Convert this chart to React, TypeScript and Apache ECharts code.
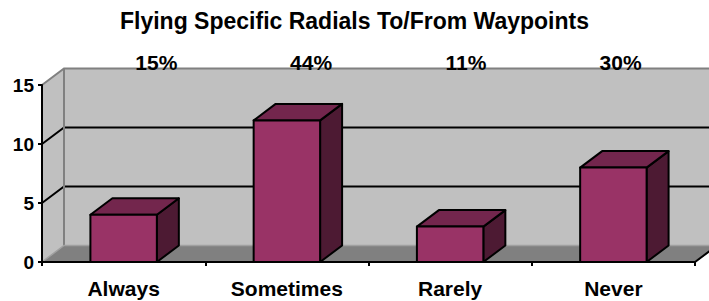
import React, { useEffect, useRef } from "react";
import * as echarts from "echarts";

const chartTitle = "Flying Specific Radials To/From Waypoints";
const categories = ["Always", "Sometimes", "Rarely", "Never"];
const counts = [4, 12, 3, 8];
const percentLabels = ["15%", "44%", "11%", "30%"];
const yMin = 0;
const yMax = 15;
const yInterval = 5;
const gridValues = [5, 10];

const DX = 22;
const DY = -16.5;
const FONT = "Arial, 'Liberation Sans', Helvetica, sans-serif";

export default function App() {
  const ref = useRef<HTMLDivElement>(null);
  useEffect(() => {
    const chart = echarts.init(ref.current as HTMLDivElement, null, { renderer: "svg" });
    const option: any = {
      animation: false,
      backgroundColor: "#ffffff",
      title: {
        text: chartTitle,
        left: "center",
        top: 4,
        textStyle: { fontFamily: FONT, fontWeight: "bold", fontSize: 23, color: "#000" },
      },
      grid: [
        { left: 42, top: 85, width: 653, height: 177 },
        { left: 79, top: 85, width: 619, height: 177 },
      ],
      xAxis: [
        {
          type: "category",
          gridIndex: 0,
          data: categories,
          boundaryGap: true,
          z: 10,
          axisLine: { show: true, lineStyle: { color: "#000", width: 2 } },
          axisTick: { show: true, length: 4, lineStyle: { color: "#000", width: 2 } },
          axisLabel: {
            fontFamily: FONT,
            fontWeight: "bold",
            fontSize: 21,
            lineHeight: 21,
            color: "#000",
            margin: 16,
          },
        },
        {
          type: "category",
          gridIndex: 1,
          position: "top",
          data: percentLabels,
          z: 10,
          axisLine: { show: false },
          axisTick: { show: false },
          axisLabel: {
            fontFamily: FONT,
            fontWeight: "bold",
            fontSize: 21,
            lineHeight: 21,
            color: "#000",
            margin: 12,
          },
        },
      ],
      yAxis: [
        {
          type: "value",
          gridIndex: 0,
          min: yMin,
          max: yMax,
          interval: yInterval,
          z: 10,
          axisLine: { show: true, lineStyle: { color: "#000", width: 2 } },
          axisTick: { show: true, length: 4, lineStyle: { color: "#000", width: 2 } },
          splitLine: { show: false },
          axisLabel: {
            fontFamily: FONT,
            fontWeight: "bold",
            fontSize: 19,
            color: "#000",
            margin: 8,
          },
        },
        { type: "value", gridIndex: 1, show: false, min: yMin, max: yMax },
      ],
      series: [
        {
          type: "custom",
          name: "chamber",
          xAxisIndex: 0,
          yAxisIndex: 0,
          z: 1,
          clip: false,
          silent: true,
          data: [[0, 0]],
          renderItem: (params: any, api: any) => {
            const cs = params.coordSys;
            const x0 = cs.x;
            const x1 = cs.x + cs.width;
            const y0 = api.coord([0, yMin])[1];
            const yTop = api.coord([0, yMax])[1];
            const children: any[] = [];
            children.push({
              type: "polygon",
              shape: { points: [[x0, yTop], [x0 + DX, yTop + DY], [x0 + DX, y0 + DY], [x0, y0]] },
              style: { fill: "#c0c0c0", stroke: null },
            });
            children.push({
              type: "rect",
              shape: { x: x0 + DX, y: yTop + DY, width: cs.width, height: y0 - yTop },
              style: { fill: "#c0c0c0", stroke: null },
            });
            gridValues.forEach((v) => {
              const y = api.coord([0, v])[1];
              children.push({
                type: "polyline",
                shape: { points: [[x0, y], [x0 + DX, y + DY], [x1 + DX, y + DY]] },
                style: { stroke: "#000", lineWidth: 2, fill: null },
              });
            });
            children.push({
              type: "polyline",
              shape: { points: [[x0, yTop], [x0 + DX, yTop + DY], [x1 + DX, yTop + DY]] },
              style: { stroke: "#808080", lineWidth: 2, fill: null },
            });
            children.push({
              type: "line",
              shape: { x1: x0 + DX, y1: yTop + DY, x2: x0 + DX, y2: y0 + DY },
              style: { stroke: "#808080", lineWidth: 2 },
            });
            children.push({
              type: "polygon",
              shape: { points: [[x0, y0], [x1, y0], [x1 + DX, y0 + DY], [x0 + DX, y0 + DY]] },
              style: { fill: "#808080", stroke: "#a0a0a0", lineWidth: 1.5 },
            });
            children.push({
              type: "line",
              shape: { x1: x1, y1: y0, x2: x1 + DX, y2: y0 + DY },
              style: { stroke: "#000", lineWidth: 2 },
            });
            return { type: "group", children };
          },
        },
        {
          type: "custom",
          name: "Count",
          xAxisIndex: 0,
          yAxisIndex: 0,
          z: 2,
          clip: false,
          data: categories.map((c, i) => [i, counts[i]]),
          renderItem: (params: any, api: any) => {
            const idx = api.value(0);
            const val = api.value(1);
            const pt = api.coord([idx, val]);
            const cx = pt[0];
            const yt = pt[1];
            const yb = api.coord([idx, 0])[1];
            const bw = api.size([1, 0])[0] * 0.407;
            const xl = cx - bw / 2;
            const xr = cx + bw / 2;
            const st = { stroke: "#000", lineWidth: 2, lineJoin: "round" };
            return {
              type: "group",
              children: [
                {
                  type: "polygon",
                  shape: { points: [[xr, yt], [xr + DX, yt + DY], [xr + DX, yb + DY], [xr, yb]] },
                  style: { ...st, fill: "#4d1a33" },
                },
                {
                  type: "polygon",
                  shape: { points: [[xl, yt], [xr, yt], [xr + DX, yt + DY], [xl + DX, yt + DY]] },
                  style: { ...st, fill: "#73264d" },
                },
                {
                  type: "rect",
                  shape: { x: xl, y: yt, width: bw, height: yb - yt },
                  style: { ...st, fill: "#993366" },
                },
              ],
            };
          },
        },
      ],
    };
    chart.setOption(option);
    return () => chart.dispose();
  }, []);
  return (
    <div
      ref={ref}
      style={{ position: "fixed", left: 0, top: 0, width: 709, height: 301 }}
    />
  );
}
